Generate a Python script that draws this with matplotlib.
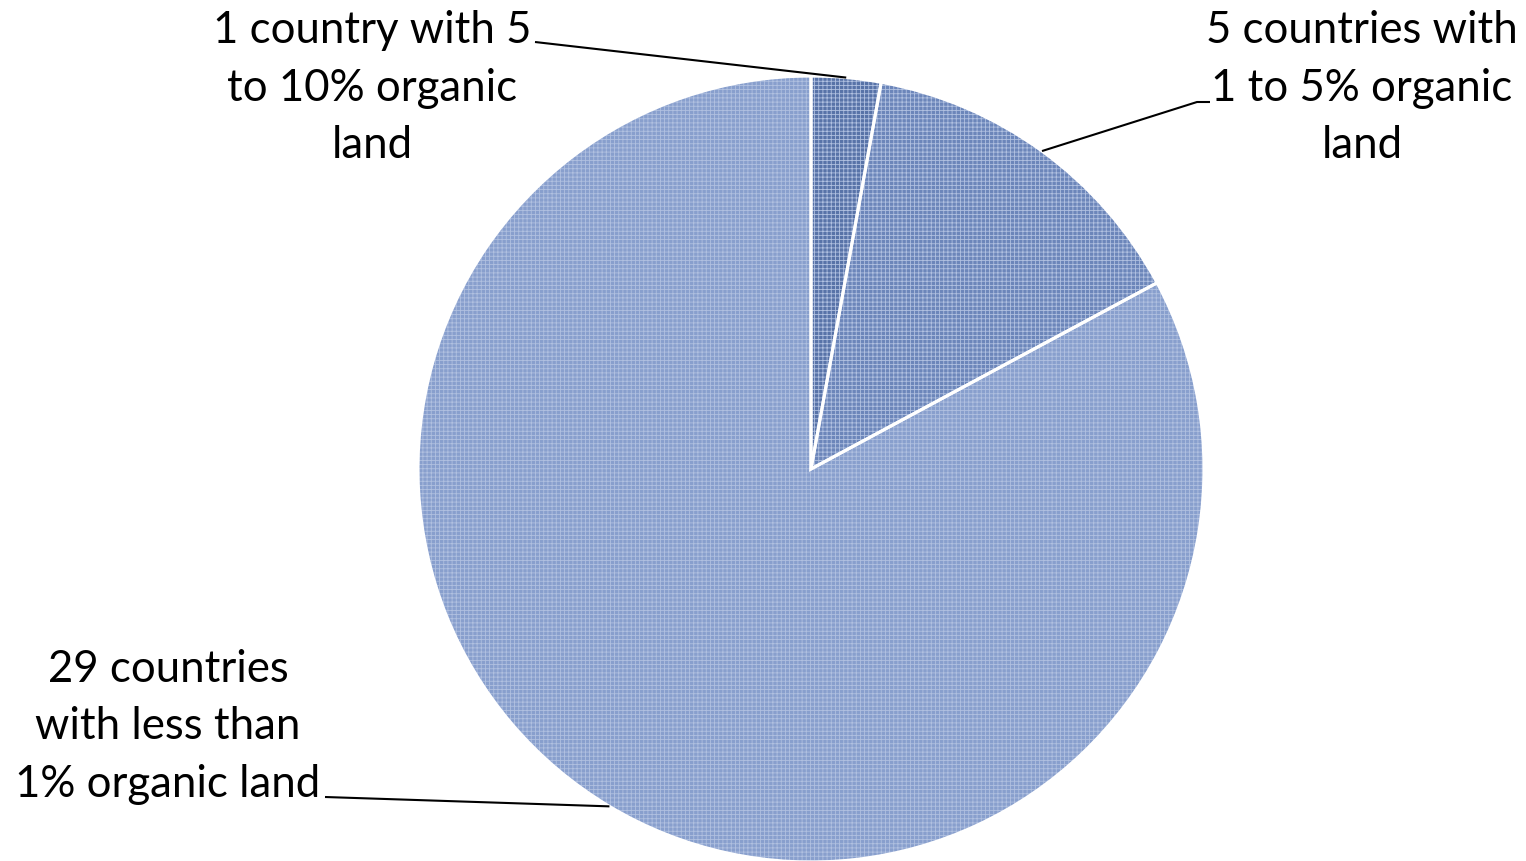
import numpy as np
import matplotlib.pyplot as plt

# datos del grafico
etiquetas = ['1 country with 5\nto 10% organic\nland',
             '5 countries with\n1 to 5% organic\nland',
             '29 countries\nwith less than\n1% organic land']
paises = [1, 5, 29]
colores = ['#5873a8', '#6c86ba', '#889fcd']

W, H = 1526, 862
fig = plt.figure(figsize=(W / 100, H / 100), dpi=100)
ax = fig.add_axes([0, 0, 1, 1])

centro = (811, H - 470)
radio = 393

# pie con textura
plt.rcParams['hatch.linewidth'] = 0.6
wedges, _ = ax.pie(paises, colors=colores, startangle=90, counterclock=False,
                   center=centro, radius=radio, frame=True,
                   wedgeprops=dict(edgecolor='#b0c0e0', linewidth=0, hatch='++++'))
ax.pie(paises, colors=['none'] * 3, startangle=90, counterclock=False,
       center=centro, radius=radio, frame=True,
       wedgeprops=dict(edgecolor='white', linewidth=2.2))
ax.set_xlim(0, W)
ax.set_ylim(0, H)
ax.set_aspect('equal')
ax.axis('off')

# posiciones de textos (pixeles) y punto de union de las lineas
pos_texto = [(372, H - 88), (1362, H - 88), (168, H - 727)]
inicio_linea = [[(535, H - 43)], [(1210, H - 103), (1197, H - 103)], [(325, H - 798)]]

for w, txt, pt, ini in zip(wedges, etiquetas, pos_texto, inicio_linea):
    ang = np.deg2rad((w.theta1 + w.theta2) / 2)
    px = centro[0] + radio * np.cos(ang)
    py = centro[1] + radio * np.sin(ang)
    xs = [p[0] for p in ini] + [px]
    ys = [p[1] for p in ini] + [py]
    ax.plot(xs, ys, color='black', lw=1.5, solid_capstyle='butt')
    ax.text(pt[0], pt[1], txt, ha='center', va='center', fontsize=31.5,
            family='Lato', linespacing=1.5, color='black')

fig.savefig('out.png', dpi=100)
